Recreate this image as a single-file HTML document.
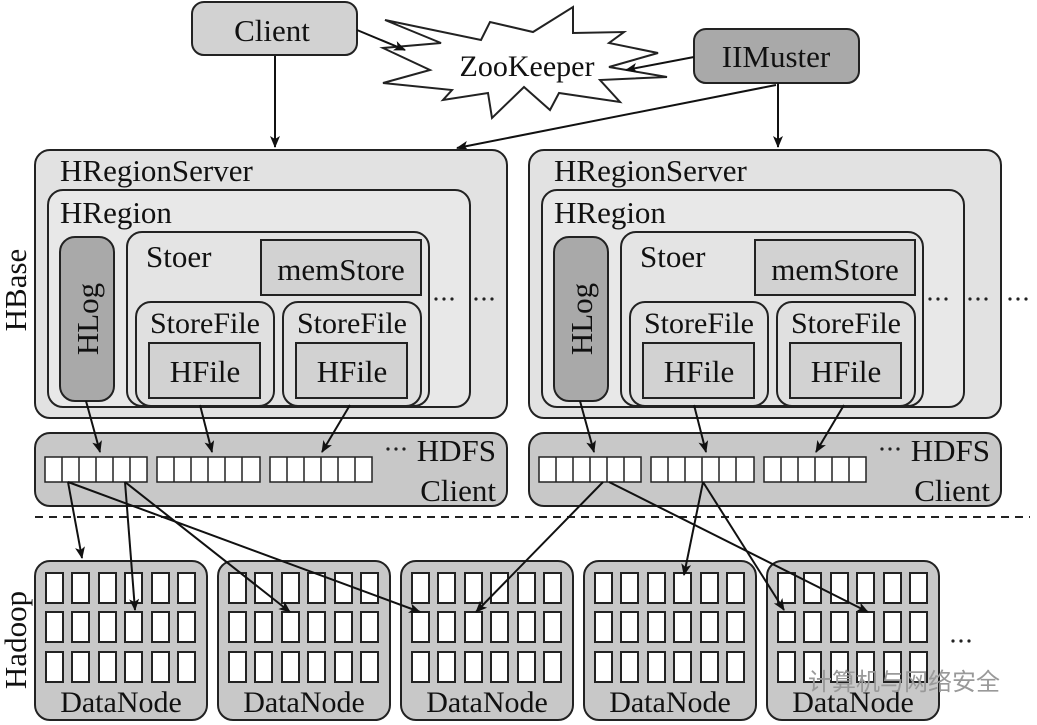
<!DOCTYPE html>
<html><head><meta charset="utf-8"><style>html,body{margin:0;padding:0;background:#fff}svg{display:block}text{font-family:"Liberation Serif",serif;fill:#111}</style></head><body>
<svg width="1037" height="725" viewBox="0 0 1037 725" xmlns="http://www.w3.org/2000/svg" font-family="Liberation Serif, serif">
<defs>
<marker id="a" markerWidth="12" markerHeight="10" refX="11" refY="5" orient="auto" markerUnits="userSpaceOnUse"><path d="M0,0 L12,5 L0,10 L3,5 z" fill="#111"/></marker>
</defs>
<g stroke="#222" stroke-width="2">
<rect x="192" y="2" width="165" height="53" rx="12" fill="#d2d2d2"/>
<rect x="694" y="29" width="165" height="54" rx="12" fill="#a9a9a9"/>
<polygon fill="#fff" points="385,20 441,43 383,48 430,70 383,83 452,90 443,100 488,93 492,118 524,87 550,110 559,93 620,102 600,80 667,77 609,67 658,53 609,43 624,32 573,33 573,7 533,32 490,22 481,40"/>
</g>
<text x="272" y="41" font-size="31" text-anchor="middle">Client</text>
<text x="776" y="67" font-size="31" text-anchor="middle">IIMuster</text>
<text x="527" y="76" font-size="30" text-anchor="middle">ZooKeeper</text>
<g stroke="#111" stroke-width="2" fill="none" marker-end="url(#a)">
<line x1="357" y1="30" x2="405" y2="50"/>
<line x1="694" y1="57" x2="626" y2="70"/>
<line x1="275" y1="56" x2="275" y2="147"/>
<line x1="778" y1="83" x2="778" y2="147"/>
<line x1="776" y1="85" x2="457" y2="148"/>
</g>
<g id="srv">
<g stroke="#222" stroke-width="2">
<rect x="35" y="150" width="472" height="268" rx="15" fill="#e2e2e2"/>
<rect x="48" y="190" width="422" height="217" rx="15" fill="#e8e8e8"/>
<rect x="60" y="237" width="54" height="164" rx="15" fill="#a9a9a9"/>
<rect x="127" y="232" width="302" height="174" rx="15" fill="#e4e4e4"/>
<rect x="261" y="240" width="160" height="55" fill="#d2d2d2"/>
<rect x="136" y="302" width="138" height="104" rx="15" fill="#e0e0e0"/>
<rect x="283" y="302" width="138" height="104" rx="15" fill="#e0e0e0"/>
<rect x="149" y="343" width="111" height="55" fill="#d2d2d2"/>
<rect x="296" y="343" width="111" height="55" fill="#d2d2d2"/>
<rect x="35" y="433" width="472" height="73" rx="15" fill="#c8c8c8"/>
</g>
<text x="60" y="181" font-size="31">HRegionServer</text>
<text x="60" y="223" font-size="31">HRegion</text>
<text x="146" y="267" font-size="31">Stoer</text>
<text x="341" y="280" font-size="31" text-anchor="middle">memStore</text>
<text x="205" y="333" font-size="30" text-anchor="middle">StoreFile</text>
<text x="352" y="333" font-size="30" text-anchor="middle">StoreFile</text>
<text x="205" y="382" font-size="31" text-anchor="middle">HFile</text>
<text x="352" y="382" font-size="31" text-anchor="middle">HFile</text>
<text transform="translate(98,319) rotate(-90)" font-size="31" text-anchor="middle">HLog</text>
<g fill="#222"><circle cx="436" cy="299" r="1.6"/><circle cx="444" cy="299" r="1.6"/><circle cx="452" cy="299" r="1.6"/><circle cx="476" cy="299" r="1.6"/><circle cx="484" cy="299" r="1.6"/><circle cx="492" cy="299" r="1.6"/></g>
<g fill="#fff" stroke="#222" stroke-width="1.5">
<rect x="45" y="457" width="102" height="25"/><rect x="157" y="457" width="103" height="25"/><rect x="270" y="457" width="102" height="25"/>
</g>
<path d="M62,457v25M79,457v25M96,457v25M113,457v25M130,457v25M174,457v25M191,457v25M208,457v25M225,457v25M242,457v25M287,457v25M304,457v25M321,457v25M338,457v25M355,457v25" stroke="#222" stroke-width="1.5"/>
<g fill="#222"><circle cx="388" cy="449" r="1.6"/><circle cx="396" cy="449" r="1.6"/><circle cx="404" cy="449" r="1.6"/></g>
<text x="496" y="461" font-size="31" text-anchor="end">HDFS</text>
<text x="496" y="501" font-size="31" text-anchor="end">Client</text>
<g stroke="#111" stroke-width="2" fill="none" marker-end="url(#a)">
<line x1="86" y1="401" x2="100" y2="452"/>
<line x1="200" y1="405" x2="212" y2="452"/>
<line x1="350" y1="405" x2="322" y2="452"/>
</g>
</g>
<use href="#srv" transform="translate(494,0)"/>
<g fill="#222"><circle cx="1010" cy="299" r="1.6"/><circle cx="1018" cy="299" r="1.6"/><circle cx="1026" cy="299" r="1.6"/></g>
<text transform="translate(26,290) rotate(-90)" font-size="31" text-anchor="middle">HBase</text>
<text transform="translate(26,640) rotate(-90)" font-size="31" text-anchor="middle">Hadoop</text>
<line x1="35" y1="517" x2="1030" y2="517" stroke="#222" stroke-width="2" stroke-dasharray="8,6"/>
<g id="dn">
<rect x="35" y="561" width="172" height="159" rx="15" fill="#c8c8c8" stroke="#222" stroke-width="2"/>
<g fill="#fff" stroke="#222" stroke-width="2">
<rect x="46" y="573" width="17" height="30"/><rect x="72" y="573" width="17" height="30"/><rect x="99" y="573" width="17" height="30"/><rect x="125" y="573" width="17" height="30"/><rect x="152" y="573" width="17" height="30"/><rect x="178" y="573" width="17" height="30"/>
<rect x="46" y="612" width="17" height="30"/><rect x="72" y="612" width="17" height="30"/><rect x="99" y="612" width="17" height="30"/><rect x="125" y="612" width="17" height="30"/><rect x="152" y="612" width="17" height="30"/><rect x="178" y="612" width="17" height="30"/>
<rect x="46" y="652" width="17" height="30"/><rect x="72" y="652" width="17" height="30"/><rect x="99" y="652" width="17" height="30"/><rect x="125" y="652" width="17" height="30"/><rect x="152" y="652" width="17" height="30"/><rect x="178" y="652" width="17" height="30"/>
</g>
<text x="121" y="712" font-size="30" text-anchor="middle">DataNode</text>
</g>
<use href="#dn" transform="translate(183,0)"/>
<use href="#dn" transform="translate(366,0)"/>
<use href="#dn" transform="translate(549,0)"/>
<use href="#dn" transform="translate(732,0)"/>
<g fill="#222"><circle cx="953" cy="641" r="1.6"/><circle cx="961" cy="641" r="1.6"/><circle cx="969" cy="641" r="1.6"/></g>
<g stroke="#111" stroke-width="2" fill="none" marker-end="url(#a)">
<line x1="68" y1="482" x2="82" y2="558"/>
<line x1="68" y1="482" x2="420" y2="612"/>
<line x1="125" y1="482" x2="135" y2="610"/>
<line x1="125" y1="482" x2="290" y2="612"/>
<line x1="603" y1="482" x2="476" y2="612"/>
<line x1="609" y1="482" x2="868" y2="612"/>
<line x1="703" y1="482" x2="684" y2="575"/>
<line x1="703" y1="482" x2="784" y2="610"/>
</g>
<text x="808" y="690" font-size="24" style="font-family:'Liberation Sans','Noto Sans CJK SC',sans-serif;fill:#999">计算机与网络安全</text>
</svg>
</body></html>
